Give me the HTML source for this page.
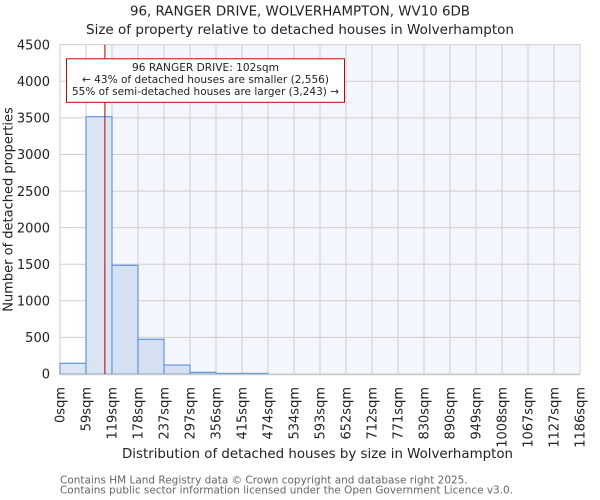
<!DOCTYPE html>
<html>
<head>
<meta charset="utf-8">
<style>
html,body{margin:0;padding:0;background:#fff;}
svg{display:block;}
text{font-family:"DejaVu Sans","Liberation Sans",sans-serif;fill:#222;}
</style>
</head>
<body>
<svg width="600" height="500" viewBox="0 0 600 500" xmlns="http://www.w3.org/2000/svg">
  <!-- title -->
  <text x="300" y="15.5" font-size="13" text-anchor="middle" textLength="340" lengthAdjust="spacingAndGlyphs">96, RANGER DRIVE, WOLVERHAMPTON, WV10 6DB</text>
  <text x="300" y="34" font-size="13" text-anchor="middle" textLength="428" lengthAdjust="spacingAndGlyphs">Size of property relative to detached houses in Wolverhampton</text>

  <!-- plot background -->
  <rect x="60" y="44.7" width="44.7" height="329.3" fill="#ffffff"/>
  <rect x="104.7" y="44.7" width="475.3" height="329.3" fill="#f3f6fd"/>

  <!-- grid -->
  <g stroke="#cfcfcf" stroke-width="1">
    <line x1="86" y1="44.7" x2="86" y2="374"/>
    <line x1="112" y1="44.7" x2="112" y2="374"/>
    <line x1="138" y1="44.7" x2="138" y2="374"/>
    <line x1="164" y1="44.7" x2="164" y2="374"/>
    <line x1="190" y1="44.7" x2="190" y2="374"/>
    <line x1="216" y1="44.7" x2="216" y2="374"/>
    <line x1="242" y1="44.7" x2="242" y2="374"/>
    <line x1="268" y1="44.7" x2="268" y2="374"/>
    <line x1="294" y1="44.7" x2="294" y2="374"/>
    <line x1="320" y1="44.7" x2="320" y2="374"/>
    <line x1="346" y1="44.7" x2="346" y2="374"/>
    <line x1="372" y1="44.7" x2="372" y2="374"/>
    <line x1="398" y1="44.7" x2="398" y2="374"/>
    <line x1="424" y1="44.7" x2="424" y2="374"/>
    <line x1="450" y1="44.7" x2="450" y2="374"/>
    <line x1="476" y1="44.7" x2="476" y2="374"/>
    <line x1="502" y1="44.7" x2="502" y2="374"/>
    <line x1="528" y1="44.7" x2="528" y2="374"/>
    <line x1="554" y1="44.7" x2="554" y2="374"/>
    <line x1="60" y1="337.4" x2="580" y2="337.4"/>
    <line x1="60" y1="300.8" x2="580" y2="300.8"/>
    <line x1="60" y1="264.2" x2="580" y2="264.2"/>
    <line x1="60" y1="227.6" x2="580" y2="227.6"/>
    <line x1="60" y1="191.1" x2="580" y2="191.1"/>
    <line x1="60" y1="154.5" x2="580" y2="154.5"/>
    <line x1="60" y1="117.9" x2="580" y2="117.9"/>
    <line x1="60" y1="81.3" x2="580" y2="81.3"/>
  </g>
  <rect x="60" y="44.7" width="520" height="329.3" fill="none" stroke="#cfcfcf" stroke-width="1"/>

  <!-- bars -->
  <g stroke="#5b8fd6" stroke-width="1.1">
    <rect x="60" y="363.3" width="26" height="10.7" fill="#dde6f4"/>
    <rect x="86" y="116.7" width="26" height="257.3" fill="#dae4f3"/>
    <rect x="112" y="265.3" width="26" height="108.7" fill="#d5e0f3"/>
    <rect x="138" y="339.3" width="26" height="34.7" fill="#d5e0f3"/>
    <rect x="164" y="365" width="26" height="9" fill="#d5e0f3"/>
    <rect x="190" y="372.3" width="26" height="1.7" fill="#d5e0f3"/>
    <rect x="216" y="373.4" width="26" height="0.6" fill="#d5e0f3"/>
    <rect x="242" y="373.4" width="26" height="0.6" fill="#d5e0f3"/>
  </g>
  <line x1="60" y1="374.5" x2="580" y2="374.5" stroke="#c8c8c8" stroke-width="1.5"/>

  <!-- property line -->
  <line x1="104.9" y1="44.7" x2="104.9" y2="374" stroke="#b30000" stroke-width="1"/>

  <!-- annotation -->
  <rect x="66.5" y="58.8" width="278" height="43.5" fill="#ffffff" stroke="#cc0000" stroke-width="1"/>
  <text x="205.5" y="71" font-size="11" text-anchor="middle" textLength="147" lengthAdjust="spacingAndGlyphs">96 RANGER DRIVE: 102sqm</text>
  <text x="205.5" y="83" font-size="11" text-anchor="middle" textLength="247" lengthAdjust="spacingAndGlyphs">← 43% of detached houses are smaller (2,556)</text>
  <text x="205.5" y="95" font-size="11" text-anchor="middle" textLength="267" lengthAdjust="spacingAndGlyphs">55% of semi-detached houses are larger (3,243) →</text>

  <!-- y tick labels -->
  <g font-size="13" text-anchor="end">
    <text x="50" y="378.7">0</text>
    <text x="50" y="342.1">500</text>
    <text x="50" y="305.5">1000</text>
    <text x="50" y="268.9">1500</text>
    <text x="50" y="232.3">2000</text>
    <text x="50" y="195.8">2500</text>
    <text x="50" y="159.2">3000</text>
    <text x="50" y="122.6">3500</text>
    <text x="50" y="86">4000</text>
    <text x="50" y="49.4">4500</text>
  </g>

  <!-- y axis label -->
  <text transform="translate(12.5,209.5) rotate(-90)" font-size="13" text-anchor="middle" fill="#333">Number of detached properties</text>

  <!-- x tick labels -->
  <g font-size="13" text-anchor="end">
    <text transform="translate(64.5,387) rotate(-90)">0sqm</text>
    <text transform="translate(90.5,387) rotate(-90)">59sqm</text>
    <text transform="translate(116.5,387) rotate(-90)">119sqm</text>
    <text transform="translate(142.5,387) rotate(-90)">178sqm</text>
    <text transform="translate(168.5,387) rotate(-90)">237sqm</text>
    <text transform="translate(194.5,387) rotate(-90)">297sqm</text>
    <text transform="translate(220.5,387) rotate(-90)">356sqm</text>
    <text transform="translate(246.5,387) rotate(-90)">415sqm</text>
    <text transform="translate(272.5,387) rotate(-90)">474sqm</text>
    <text transform="translate(298.5,387) rotate(-90)">534sqm</text>
    <text transform="translate(324.5,387) rotate(-90)">593sqm</text>
    <text transform="translate(350.5,387) rotate(-90)">652sqm</text>
    <text transform="translate(376.5,387) rotate(-90)">712sqm</text>
    <text transform="translate(402.5,387) rotate(-90)">771sqm</text>
    <text transform="translate(428.5,387) rotate(-90)">830sqm</text>
    <text transform="translate(454.5,387) rotate(-90)">890sqm</text>
    <text transform="translate(480.5,387) rotate(-90)">949sqm</text>
    <text transform="translate(506.5,387) rotate(-90)">1008sqm</text>
    <text transform="translate(532.5,387) rotate(-90)">1067sqm</text>
    <text transform="translate(558.5,387) rotate(-90)">1127sqm</text>
    <text transform="translate(584.5,387) rotate(-90)">1186sqm</text>
  </g>

  <!-- x axis label -->
  <text x="317.5" y="458" font-size="13" text-anchor="middle" textLength="391" lengthAdjust="spacingAndGlyphs">Distribution of detached houses by size in Wolverhampton</text>

  <!-- footer -->
  <text x="60" y="483.3" font-size="10.5" style="fill:#666" textLength="407.7" lengthAdjust="spacingAndGlyphs">Contains HM Land Registry data © Crown copyright and database right 2025.</text>
  <text x="60" y="493.5" font-size="10.5" style="fill:#666" textLength="453" lengthAdjust="spacingAndGlyphs">Contains public sector information licensed under the Open Government Licence v3.0.</text>
</svg>
</body>
</html>
